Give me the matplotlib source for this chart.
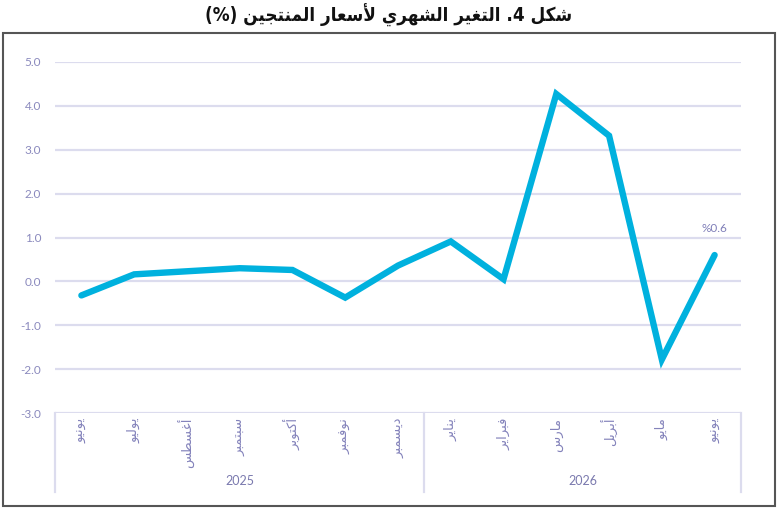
import re
import matplotlib
matplotlib.use("Agg")
import matplotlib.pyplot as plt
from matplotlib.patches import Rectangle
from matplotlib.lines import Line2D

# ---------------- data ----------------
title_text = "شكل 4. التغير الشهري لأسعار المنتجين (%)"
months = ["يونيو", "يوليو", "أغسطس", "سبتمبر", "أكتوبر", "نوفمبر", "ديسمبر",
          "يناير", "فبراير", "مارس", "أبريل", "مايو", "يونيو"]
years = ["2025", "2026"]
year_sizes = [7, 6]
values = [-0.32, 0.16, 0.23, 0.30, 0.26, -0.37, 0.36, 0.91, 0.05, 4.27, 3.32, -1.78, 0.6]
last_label = "%0.6"
y_ticks = [5.0, 4.0, 3.0, 2.0, 1.0, 0.0, -1.0, -2.0, -3.0]

# ------------- minimal Arabic shaping (matplotlib has no shaper) -------------
DUAL = {0x0628: 0xFE8F, 0x062A: 0xFE95, 0x062B: 0xFE99, 0x062C: 0xFE9D, 0x062D: 0xFEA1,
        0x062E: 0xFEA5, 0x0633: 0xFEB1, 0x0634: 0xFEB5, 0x0635: 0xFEB9, 0x0636: 0xFEBD,
        0x0637: 0xFEC1, 0x0638: 0xFEC5, 0x0639: 0xFEC9, 0x063A: 0xFECD, 0x0641: 0xFED1,
        0x0642: 0xFED5, 0x0643: 0xFED9, 0x0644: 0xFEDD, 0x0645: 0xFEE1, 0x0646: 0xFEE5,
        0x0647: 0xFEE9, 0x064A: 0xFEF1}
RIGHT = {0x0627: 0xFE8D, 0x0623: 0xFE83, 0x0625: 0xFE87, 0x0622: 0xFE81, 0x062F: 0xFEA9,
         0x0630: 0xFEAB, 0x0631: 0xFEAD, 0x0632: 0xFEAF, 0x0648: 0xFEED, 0x0629: 0xFE93}
LAMALEF = {0x0627: 0xFEFB, 0x0623: 0xFEF7, 0x0625: 0xFEF9, 0x0622: 0xFEF5}


def shape(text):
    toks = []
    i = 0
    while i < len(text):
        c = ord(text[i])
        if c == 0x0644 and i + 1 < len(text) and ord(text[i + 1]) in LAMALEF:
            toks.append(("R", LAMALEF[ord(text[i + 1])]))
            i += 2
            continue
        if c in DUAL:
            toks.append(("D", DUAL[c]))
        elif c in RIGHT:
            toks.append(("R", RIGHT[c]))
        else:
            toks.append(("N", text[i]))
        i += 1
    out = []
    for k, (kind, base) in enumerate(toks):
        if kind == "N":
            out.append(base)
            continue
        pj = k > 0 and toks[k - 1][0] == "D"
        nj = kind == "D" and k + 1 < len(toks) and toks[k + 1][0] in ("D", "R")
        if kind == "R":
            out.append(chr(base + (1 if pj else 0)))
        else:
            off = 3 if (pj and nj) else 1 if pj else 2 if nj else 0
            out.append(chr(base + off))
    return "".join(out)


def rtl(text):
    s = shape(text)[::-1]
    s = s.translate(str.maketrans("()", ")("))
    return re.sub(r"\d+(?:\.\d+)?", lambda m: m.group(0)[::-1], s)


# ---------------- figure ----------------
plt.rcParams["font.family"] = ["Lato", "DejaVu Sans"]
W, H = 778, 509
fig = plt.figure(figsize=(W / 100, H / 100), dpi=100)

x0, x1 = 55, 741
yt, yb = 62, 413
ax = fig.add_axes([x0 / W, 1 - yb / H, (x1 - x0) / W, (yb - yt) / H])
n = len(values)
xs = list(range(n))
ax.set_xlim(-0.5, n - 0.5)
ax.set_ylim(-3, 5)
for s in ax.spines.values():
    s.set_visible(False)
ax.set_xticks([])
ax.set_yticks(y_ticks)
ax.set_yticklabels([f"{v:.1f}" for v in y_ticks])
ax.tick_params(axis="y", length=0, pad=10, labelsize=8.5, labelcolor="#8a89bd")
grid_c = "#dcdcee"
for v in y_ticks:
    ax.axhline(v, color=grid_c, lw=1.6, zorder=1)

line_c = "#00b1de"
ax.plot(xs, values, color=line_c, lw=4.6, solid_joinstyle="miter",
        solid_capstyle="round", zorder=3)
ax.annotate(last_label, (xs[-1], values[-1]), xytext=(0, 15), textcoords="offset points",
            ha="center", va="bottom", fontsize=8.5, color="#7f7eb8")

# category axis below
trans = ax.get_xaxis_transform()
for i, m in enumerate(months):
    ax.text(xs[i], -0.014, rtl(m), transform=trans, rotation=90, ha="center", va="top",
            fontsize=9.5, color="#8483bb", family=["DejaVu Sans"])
bounds = [0]
for sz in year_sizes:
    bounds.append(bounds[-1] + sz)
sep_bot = -(492 - yb) / (yb - yt)
for b in bounds:
    ax.add_line(Line2D([b - 0.5, b - 0.5], [0, sep_bot], transform=trans, color=grid_c,
                       lw=1.6, clip_on=False))
yr_y = -(481 - yb) / (yb - yt)
for k, yr in enumerate(years):
    c = (bounds[k] + bounds[k + 1] - 1) / 2
    ax.text(c, yr_y, yr, transform=trans, ha="center", va="center", fontsize=9,
            color="#7a79ae")

# outer border and title
fig.add_artist(Rectangle((3 / W, 1 - 506 / H), 772 / W, (506 - 33) / H, transform=fig.transFigure,
                         fill=False, ec="#555555", lw=1.5))
fig.text(389 / W, 1 - 15 / H, rtl(title_text), ha="center", va="center", fontsize=13.5,
         fontweight="bold", fontstretch="condensed", color="#111111", family=["DejaVu Sans"])

fig.savefig("out.png", dpi=100)
